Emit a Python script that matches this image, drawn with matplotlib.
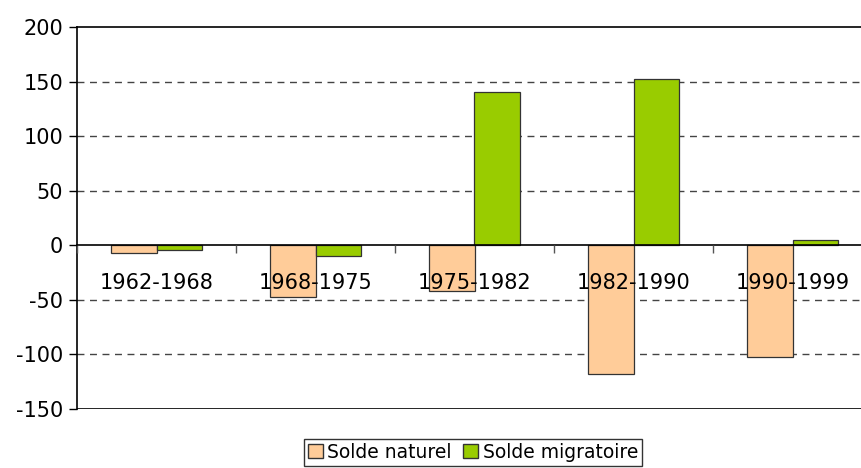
import matplotlib.pyplot as plt
import matplotlib.patches as mpatches
import numpy as np

plt.rcParams['axes.unicode_minus'] = False

periods = ['1962-1968', '1968-1975', '1975-1982', '1982-1990', '1990-1999']
solde_naturel = [-7, -47, -42, -118, -102]
solde_migratoire = [-4, -10, 140, 152, 5]
yticks = [-150, -100, -50, 0, 50, 100, 150, 200]

col_nat = '#FFCC99'
col_mig = '#99CC00'

fig = plt.figure(figsize=(8.61, 4.68), dpi=100)
# plot area runs a bit past the right edge of the picture, as in the original
ax = fig.add_axes([77/861, 1 - 409/468, 795/861, (409 - 27)/468])
ax.set_axisbelow(False)

x = np.arange(len(periods))
w = 0.286
ax.bar(x - w/2, solde_naturel, w, color=col_nat, edgecolor='#333333', linewidth=0.9, zorder=2)
ax.bar(x + w/2, solde_migratoire, w, color=col_mig, edgecolor='#333333', linewidth=0.9, zorder=2)

ax.set_xlim(-0.5, len(periods) - 0.5)
ax.set_ylim(-150, 200)
ax.set_yticks(yticks)
ax.tick_params(axis='y', labelsize=15, length=6, direction='out', width=1, pad=4)

# dashed gridlines
for v in yticks:
    if v in (-150, 0, 200):
        continue
    ax.axhline(v, color='#444444', linewidth=1, linestyle=(0, (5, 4)), zorder=1)

# x axis at zero, labels below
ax.spines['bottom'].set_position(('data', 0))
ax.spines['right'].set_visible(False)
ax.spines['top'].set_linewidth(1.2)
ax.spines['left'].set_linewidth(1.2)
ax.spines['bottom'].set_linewidth(1.2)
ax.axhline(-150, color='black', linewidth=1.2, zorder=4)

ax.set_xticks(x)
ax.set_xticklabels(periods)
ax.set_xticks(np.arange(len(periods) + 1) - 0.5, minor=True)
ax.tick_params(axis='x', which='major', length=0, labelsize=15, pad=20)
ax.tick_params(axis='x', which='minor', length=6, width=1, color='#555555')

nat_patch = mpatches.Patch(facecolor=col_nat, edgecolor='#333333')
mig_patch = mpatches.Patch(facecolor=col_mig, edgecolor='#333333')
leg = fig.legend(handles=[nat_patch, mig_patch], labels=['Solde naturel', 'Solde migratoire'],
                 loc='upper center', bbox_to_anchor=(473/861, 1 - 439/468), ncol=2,
                 fontsize=13.5, frameon=True, fancybox=False, borderpad=0.2,
                 handlelength=0.8, handleheight=0.8, handletextpad=0.25,
                 columnspacing=0.6, borderaxespad=0)
leg.get_frame().set_edgecolor('black')
leg.get_frame().set_linewidth(1)

fig.savefig('out.png', dpi=100)
